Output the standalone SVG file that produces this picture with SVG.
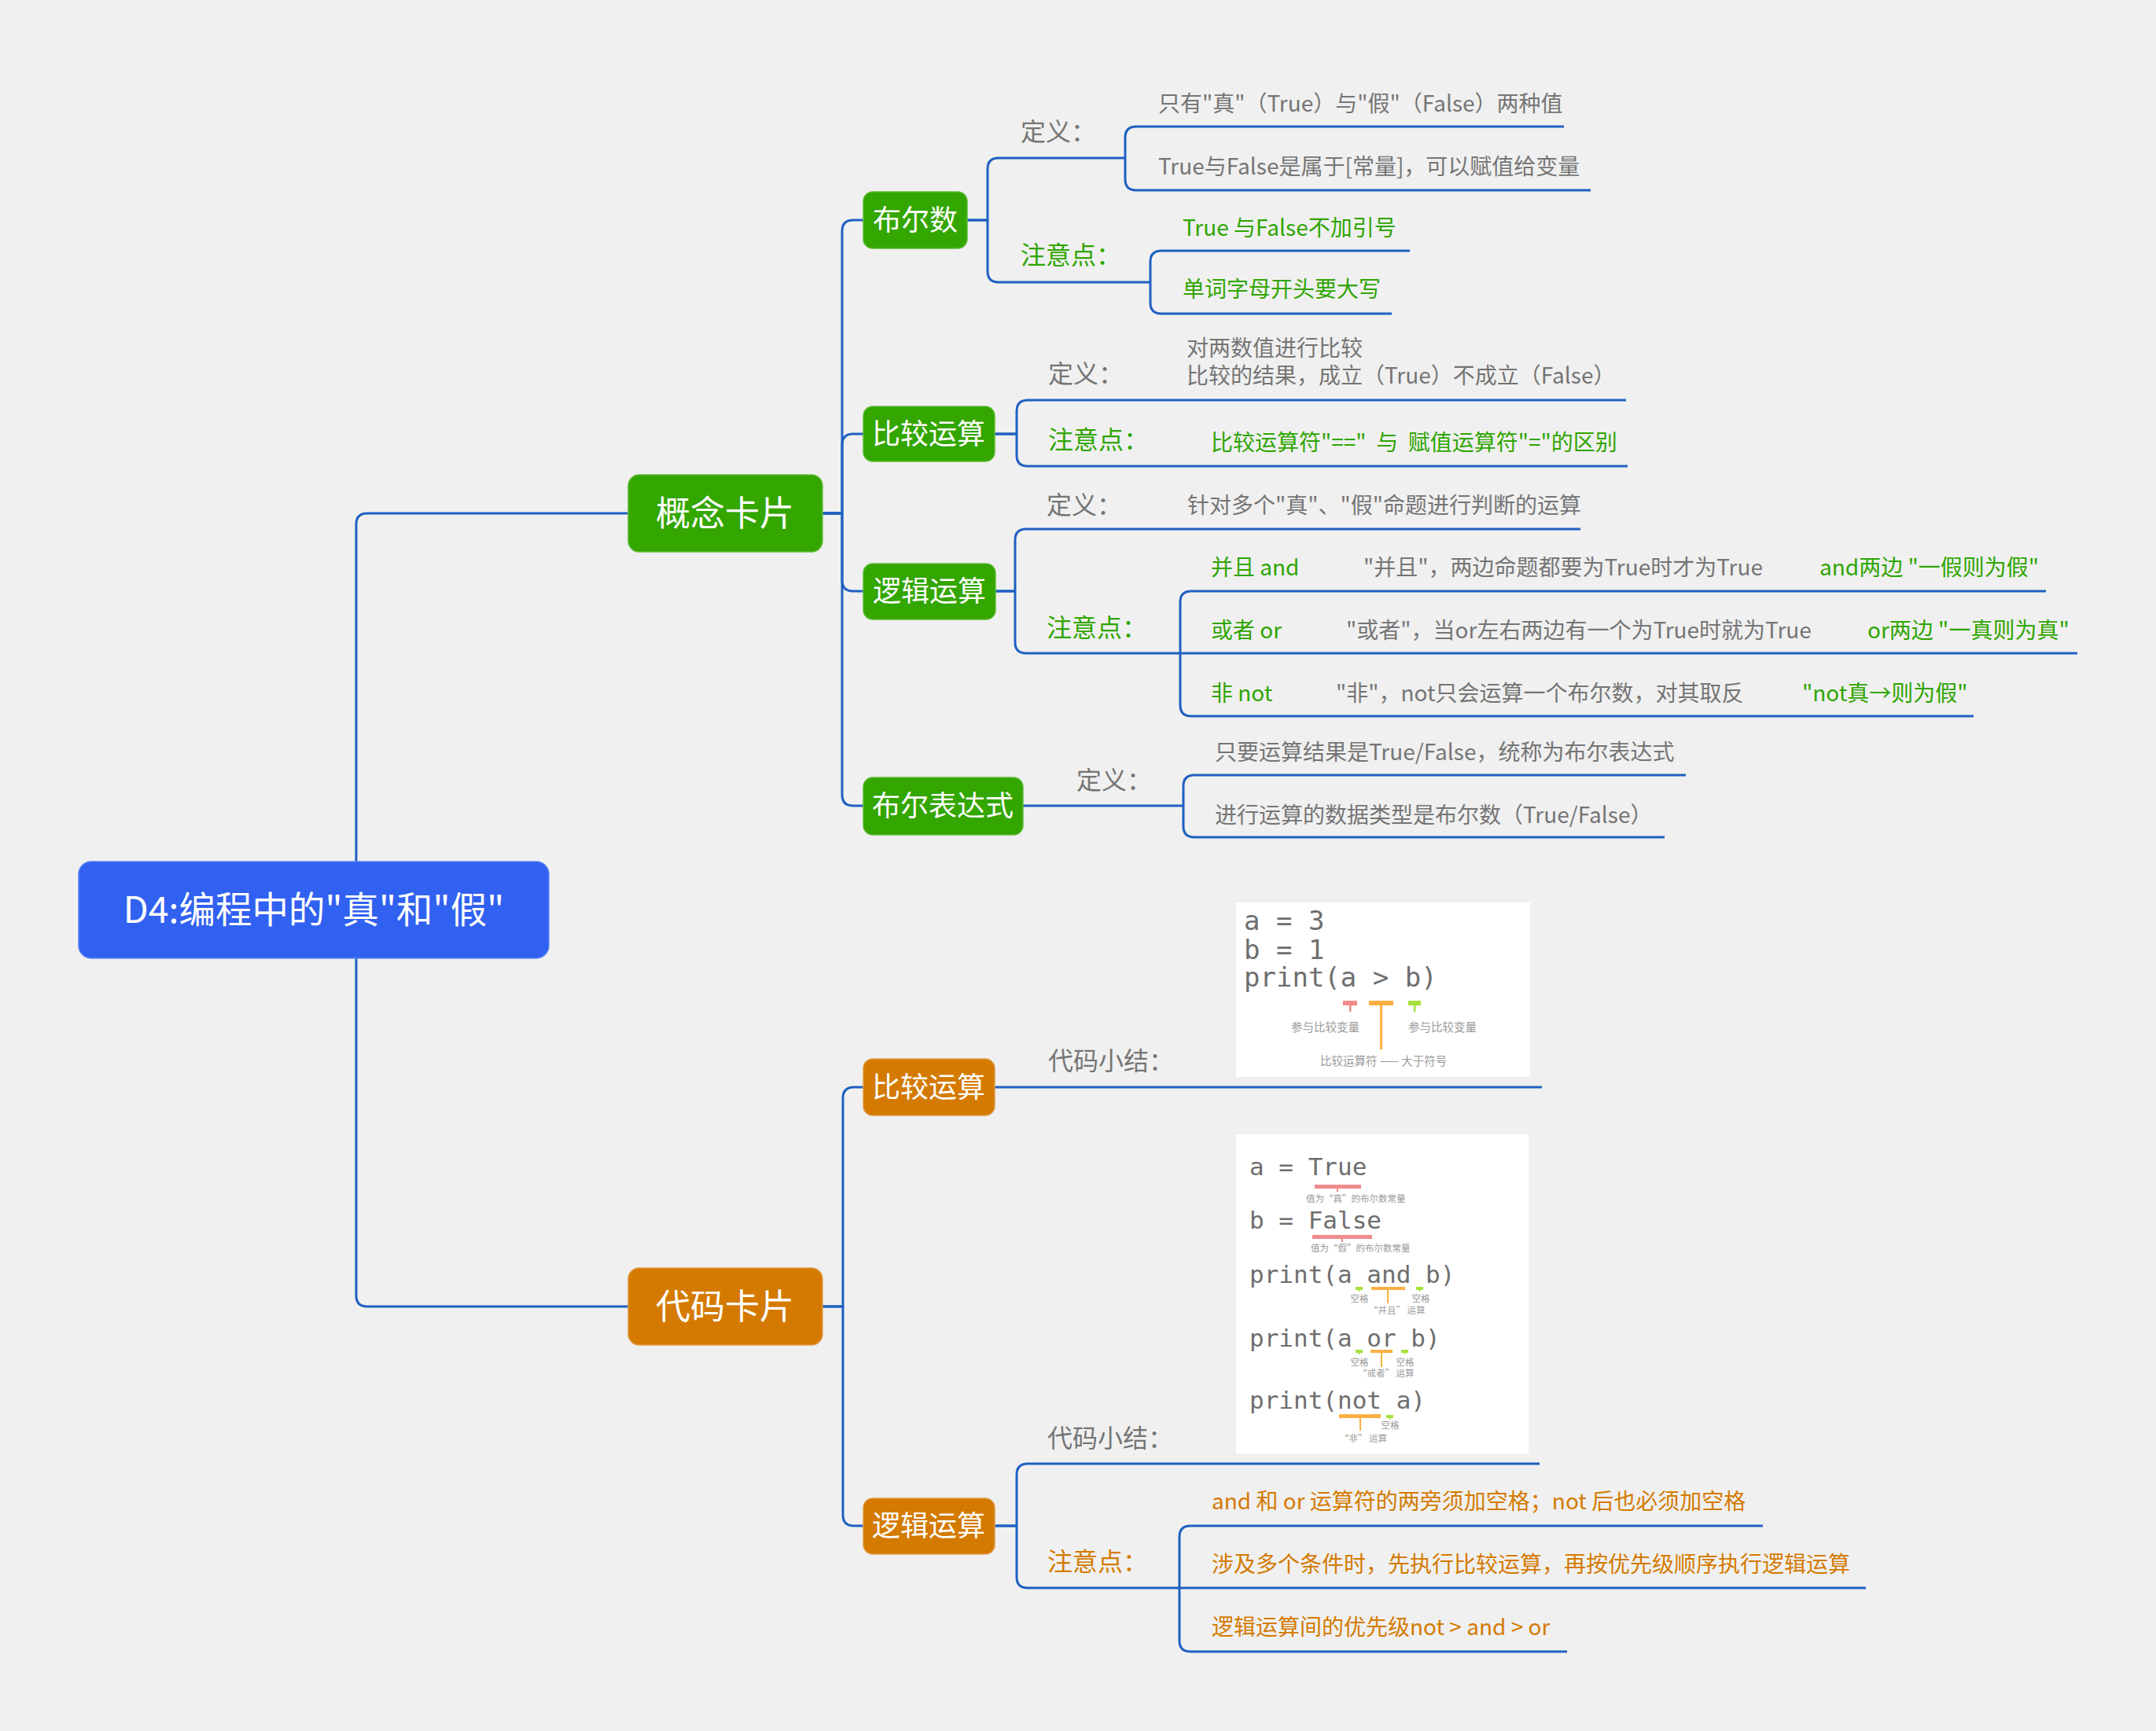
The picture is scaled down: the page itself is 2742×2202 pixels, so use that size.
<svg xmlns="http://www.w3.org/2000/svg" width="2742" height="2202" viewBox="0 0 2742 2202">
  <style>
    .ln { fill: none; stroke: #1f60c2; stroke-width: 3; stroke-linejoin: round; }
    .t { font-family: "Noto Sans CJK SC", "Noto Sans", sans-serif; }
    .nt { font-family: "Noto Sans CJK SC", "Noto Sans", sans-serif; fill: #ffffff; text-anchor: middle; }
    .lab { font-size: 32px; }
    .leaf { font-size: 28px; }
    .gray { fill: #757575; }
    .green { fill: #2fa500; }
    .orange { fill: #d47a00; }
    .g-node { fill: #33a600; stroke: #5cbb33; stroke-width: 1.5; }
    .o-node { fill: #d47a00; stroke: #e09a45; stroke-width: 1.5; }
    .code { font-family: "DejaVu Sans Mono", "Liberation Mono", monospace; fill: #6e6e6e; }
    .note { font-family: "Noto Sans CJK SC", sans-serif; fill: #9a9a9a; }
    .pk { fill: #f08c8c; }
    .og { fill: #fbb044; }
    .gr { fill: #a7e03c; }
  </style>
  <rect width="2742" height="2202" fill="#f0f0f0"/>

  <!-- connectors -->
  <g id="connectors">
    <!-- root -->
    <path class="ln" d="M 453 1096 V 667 Q 453 653 467 653 H 799"/>
    <path class="ln" d="M 453 1219 V 1648 Q 453 1662 467 1662 H 799"/>
    <!-- 概念卡片 -->
    <path class="ln" d="M 1046 653 H 1071 V 294 Q 1071 280 1085 280 H 1098"/>
    <path class="ln" d="M 1046 653 H 1071 V 566 Q 1071 552 1085 552 H 1098"/>
    <path class="ln" d="M 1046 653 H 1071 V 738 Q 1071 752 1085 752 H 1098"/>
    <path class="ln" d="M 1046 653 H 1071 V 1011 Q 1071 1025 1085 1025 H 1098"/>
    <!-- 代码卡片 -->
    <path class="ln" d="M 1046 1662 H 1072 V 1397 Q 1072 1383 1086 1383 H 1098"/>
    <path class="ln" d="M 1046 1662 H 1072 V 1927 Q 1072 1941 1086 1941 H 1098"/>
    <!-- 布尔数 -->
    <path class="ln" d="M 1230 280 H 1256 V 215 Q 1256 201 1270 201 H 1431"/>
    <path class="ln" d="M 1230 280 H 1256 V 345 Q 1256 359 1270 359 H 1463"/>
    <path class="ln" d="M 1431 201 V 175 Q 1431 161 1445 161 H 1989"/>
    <path class="ln" d="M 1431 201 V 228 Q 1431 242 1445 242 H 2023"/>
    <path class="ln" d="M 1463 359 V 333 Q 1463 319 1477 319 H 1793"/>
    <path class="ln" d="M 1463 359 V 385 Q 1463 399 1477 399 H 1770"/>
    <!-- 比较运算 (concept) -->
    <path class="ln" d="M 1265 552 H 1293 V 523 Q 1293 509 1307 509 H 2068"/>
    <path class="ln" d="M 1265 552 H 1293 V 579 Q 1293 593 1307 593 H 2070"/>
    <!-- 逻辑运算 (concept) -->
    <path class="ln" d="M 1266 752 H 1291 V 687 Q 1291 673 1305 673 H 2010"/>
    <path class="ln" d="M 1266 752 H 1291 V 817 Q 1291 831 1305 831 H 1501"/>
    <path class="ln" d="M 1501 831 V 766 Q 1501 752 1515 752 H 2602"/>
    <path class="ln" d="M 1501 831 H 2642"/>
    <path class="ln" d="M 1501 831 V 897 Q 1501 911 1515 911 H 2510"/>
    <!-- 布尔表达式 -->
    <path class="ln" d="M 1301 1025 H 1505"/>
    <path class="ln" d="M 1505 1025 V 1000 Q 1505 986 1519 986 H 2144"/>
    <path class="ln" d="M 1505 1025 V 1051 Q 1505 1065 1519 1065 H 2117"/>
    <!-- 比较运算 (code) -->
    <path class="ln" d="M 1265 1383 H 1961"/>
    <!-- 逻辑运算 (code) -->
    <path class="ln" d="M 1265 1941 H 1293 V 1876 Q 1293 1862 1307 1862 H 1958"/>
    <path class="ln" d="M 1265 1941 H 1293 V 2006 Q 1293 2020 1307 2020 H 1500"/>
    <path class="ln" d="M 1500 2020 V 1955 Q 1500 1941 1514 1941 H 2242"/>
    <path class="ln" d="M 1500 2020 H 2373"/>
    <path class="ln" d="M 1500 2020 V 2087 Q 1500 2101 1514 2101 H 1993"/>
  </g>

  <!-- root -->
  <g id="root">
    <rect x="100" y="1096" width="598" height="123" rx="16" fill="#3161f0" stroke="#5a82f3" stroke-width="1.5"/>
    <text class="nt" x="399" y="1174" font-size="46.5">D4:编程中的"真"和"假"</text>
  </g>

  <!-- main branches -->
  <g id="concept-card">
    <rect class="g-node" x="799" y="604" width="247" height="98" rx="14"/>
    <text class="nt" x="922" y="669" font-size="44">概念卡片</text>
  </g>
  <g id="code-card">
    <rect class="o-node" x="799" y="1613" width="247" height="98" rx="14"/>
    <text class="nt" x="922" y="1678" font-size="44">代码卡片</text>
  </g>

  <!-- concept sub-topics -->
  <g id="bool-number">
    <rect class="g-node" x="1098" y="244" width="132" height="72" rx="12"/>
    <text class="nt" x="1164" y="293" font-size="36">布尔数</text>
  </g>
  <g id="compare-concept">
    <rect class="g-node" x="1098" y="517" width="167" height="70" rx="12"/>
    <text class="nt" x="1181" y="565" font-size="36">比较运算</text>
  </g>
  <g id="logic-concept">
    <rect class="g-node" x="1098" y="717" width="168" height="71" rx="12"/>
    <text class="nt" x="1182" y="765" font-size="36">逻辑运算</text>
  </g>
  <g id="bool-expr">
    <rect class="g-node" x="1098" y="989" width="203" height="73" rx="12"/>
    <text class="nt" x="1199" y="1038" font-size="36">布尔表达式</text>
  </g>

  <!-- code sub-topics -->
  <g id="compare-code">
    <rect class="o-node" x="1098" y="1347" width="167" height="72" rx="12"/>
    <text class="nt" x="1181" y="1396" font-size="36">比较运算</text>
  </g>
  <g id="logic-code">
    <rect class="o-node" x="1098" y="1906" width="167" height="71" rx="12"/>
    <text class="nt" x="1181" y="1954" font-size="36">逻辑运算</text>
  </g>

  <!-- 布尔数 details -->
  <g id="bool-number-def">
    <text class="t lab gray" x="1298" y="179">定义：</text>
    <text class="t leaf gray" x="1473" y="142">只有"真"（True）与"假"（False）两种值</text>
    <text class="t leaf gray" x="1473" y="222">True与False是属于[常量]，可以赋值给变量</text>
  </g>
  <g id="bool-number-note">
    <text class="t lab green" x="1298" y="336">注意点：</text>
    <text class="t leaf green" x="1504" y="300">True 与False不加引号</text>
    <text class="t leaf green" x="1504" y="378">单词字母开头要大写</text>
  </g>

  <!-- 比较运算 details -->
  <g id="compare-def">
    <text class="t lab gray" x="1333" y="487">定义：</text>
    <text class="t leaf gray" x="1509" y="453">对两数值进行比较</text>
    <text class="t leaf gray" x="1509" y="488">比较的结果，成立（True）不成立（False）</text>
  </g>
  <g id="compare-note">
    <text class="t lab green" x="1333" y="571">注意点：</text>
    <text class="t leaf green" x="1540" y="573" xml:space="preserve">比较运算符"=="  与  赋值运算符"="的区别</text>
  </g>

  <!-- 逻辑运算 details -->
  <g id="logic-def">
    <text class="t lab gray" x="1331" y="654">定义：</text>
    <text class="t leaf gray" x="1510" y="653">针对多个"真"、"假"命题进行判断的运算</text>
  </g>
  <g id="logic-note">
    <text class="t lab green" x="1331" y="810">注意点：</text>
  </g>
  <g id="logic-and">
    <text class="t leaf green" x="1540" y="732">并且 and</text>
    <text class="t leaf gray" x="1734" y="732">"并且"，两边命题都要为True时才为True</text>
    <text class="t leaf green" x="2314" y="732">and两边 "一假则为假"</text>
  </g>
  <g id="logic-or">
    <text class="t leaf green" x="1540" y="812">或者 or</text>
    <text class="t leaf gray" x="1712" y="812">"或者"，当or左右两边有一个为True时就为True</text>
    <text class="t leaf green" x="2375" y="812">or两边 "一真则为真"</text>
  </g>
  <g id="logic-not">
    <text class="t leaf green" x="1540" y="892">非 not</text>
    <text class="t leaf gray" x="1699" y="892">"非"，not只会运算一个布尔数，对其取反</text>
    <text class="t leaf green" x="2292" y="892">"not真→则为假"</text>
  </g>

  <!-- 布尔表达式 details -->
  <g id="bool-expr-def">
    <text class="t lab gray" x="1369" y="1004">定义：</text>
    <text class="t leaf gray" x="1545" y="967">只要运算结果是True/False，统称为布尔表达式</text>
    <text class="t leaf gray" x="1545" y="1047">进行运算的数据类型是布尔数（True/False）</text>
  </g>

  <!-- comparison code summary -->
  <g id="compare-summary">
    <text class="t lab gray" x="1333" y="1361">代码小结：</text>
    <rect x="1572" y="1148" width="374" height="222" fill="#ffffff"/>
    <g class="code" font-size="34">
      <text x="1582" y="1183">a = 3</text>
      <text x="1582" y="1220">b = 1</text>
      <text x="1582" y="1255">print(a &gt; b)</text>
    </g>
    <rect class="pk" x="1708" y="1273" width="18" height="6"/>
    <rect class="pk" x="1716" y="1278" width="2.5" height="9"/>
    <rect class="og" x="1741" y="1273" width="31" height="6"/>
    <rect class="og" x="1755" y="1278" width="3" height="57"/>
    <rect class="gr" x="1791" y="1273" width="16" height="6"/>
    <rect class="gr" x="1798" y="1278" width="2.5" height="9"/>
    <g class="note" font-size="14.5">
      <text x="1642" y="1312">参与比较变量</text>
      <text x="1791" y="1312">参与比较变量</text>
      <text x="1679" y="1355">比较运算符 —— 大于符号</text>
    </g>
  </g>

  <!-- logic code summary -->
  <g id="logic-summary">
    <text class="t lab gray" x="1332" y="1841">代码小结：</text>
    <rect x="1572" y="1443" width="372" height="406" fill="#ffffff"/>
    <g class="code" font-size="31">
      <text x="1589" y="1495">a = True</text>
      <text x="1589" y="1563">b = False</text>
      <text x="1589" y="1632">print(a and b)</text>
      <text x="1589" y="1713">print(a or b)</text>
      <text x="1589" y="1792">print(not a)</text>
    </g>
    <!-- a = True -->
    <rect class="pk" x="1672" y="1507" width="59" height="5"/>
    <rect class="pk" x="1700" y="1511" width="2" height="5"/>
    <!-- b = False -->
    <rect class="pk" x="1669" y="1571" width="76" height="5"/>
    <rect class="pk" x="1706" y="1575" width="2" height="5"/>
    <!-- and -->
    <rect class="gr" x="1724" y="1637" width="9" height="4"/>
    <rect class="gr" x="1728" y="1640" width="1.5" height="3"/>
    <rect class="og" x="1744" y="1637" width="43" height="4"/>
    <rect class="og" x="1764" y="1640" width="2" height="18"/>
    <rect class="gr" x="1801" y="1637" width="9" height="4"/>
    <rect class="gr" x="1805" y="1640" width="1.5" height="3"/>
    <!-- or -->
    <rect class="gr" x="1724" y="1717" width="9" height="4"/>
    <rect class="gr" x="1728" y="1720" width="1.5" height="3"/>
    <rect class="og" x="1743" y="1717" width="28" height="4"/>
    <rect class="og" x="1756" y="1720" width="2" height="19"/>
    <rect class="gr" x="1782" y="1717" width="9" height="4"/>
    <rect class="gr" x="1786" y="1720" width="1.5" height="3"/>
    <!-- not -->
    <rect class="og" x="1703" y="1799" width="53" height="5"/>
    <rect class="og" x="1729" y="1803" width="2" height="17"/>
    <rect class="gr" x="1763" y="1800" width="9" height="4"/>
    <rect class="gr" x="1767" y="1803" width="1.5" height="3"/>
    <g class="note" font-size="11.5">
      <text x="1661" y="1529">值为“真”的布尔数常量</text>
      <text x="1667" y="1592">值为“假”的布尔数常量</text>
      <text x="1729" y="1656" text-anchor="middle">空格</text>
      <text x="1807" y="1656" text-anchor="middle">空格</text>
      <text x="1741" y="1671">“并且” 运算</text>
      <text x="1729" y="1737" text-anchor="middle">空格</text>
      <text x="1787" y="1737" text-anchor="middle">空格</text>
      <text x="1727" y="1751">“或者” 运算</text>
      <text x="1768" y="1817" text-anchor="middle">空格</text>
      <text x="1704" y="1834">“非” 运算</text>
    </g>
  </g>
  <g id="logic-code-note">
    <text class="t lab orange" x="1332" y="1998">注意点：</text>
    <text class="t leaf orange" x="1541" y="1920">and 和 or 运算符的两旁须加空格；not 后也必须加空格</text>
    <text class="t leaf orange" x="1541" y="2000">涉及多个条件时，先执行比较运算，再按优先级顺序执行逻辑运算</text>
    <text class="t leaf orange" x="1541" y="2080">逻辑运算间的优先级not &gt; and &gt; or</text>
  </g>
</svg>
